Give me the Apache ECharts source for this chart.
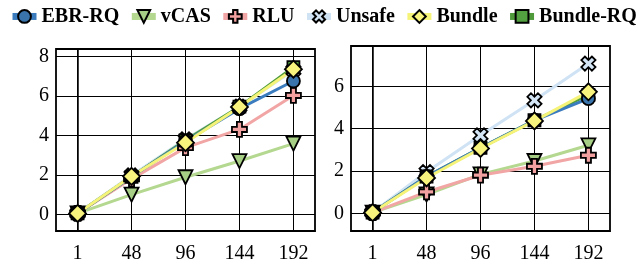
<!DOCTYPE html>
<html>
<head>
<meta charset="utf-8">
<script src="https://cdn.jsdelivr.net/npm/echarts@6/dist/echarts.min.js"></script>
<style>
  html, body { margin: 0; padding: 0; background: #fff; }
  #chart { width: 640px; height: 269px; }
</style>
</head>
<body>
<div id="chart"></div>
<script>
// x categories (threads)
const categories = ['1', '48', '96', '144', '192']
const seriesNames = ['EBR-RQ', 'vCAS', 'RLU', 'Unsafe', 'Bundle', 'Bundle-RQ']

// left panel
const ebrLeft = [0.05, 1.9, 3.7, 5.35, 6.75]
const vcasLeft = [0.05, 1.0, 1.88, 2.7, 3.58]
const rluLeft = [0.05, 1.8, 3.38, 4.3, 6.02]
const unsafeLeft = [0.05, 1.97, 3.8, 5.45, 7.3]
const bundleLeft = [0.05, 1.93, 3.63, 5.44, 7.35]
const bundleRqLeft = [0.05, 1.9, 3.75, 5.45, 7.45]

// right panel
const ebrRight = [0.05, 1.75, 3.1, 4.4, 5.42]
const vcasRight = [0.05, 0.9, 1.85, 2.48, 3.22]
const rluRight = [0.05, 1.02, 1.81, 2.23, 2.75]
const unsafeRight = [0.05, 1.96, 3.69, 5.34, 7.07]
const bundleRight = [0.05, 1.68, 3.07, 4.37, 5.74]
const bundleRqRight = [0.05, 1.75, 3.1, 4.4, 5.6]

const yTicksLeft = [0, 2, 4, 6, 8]
const yTicksRight = [0, 2, 4, 6]

const plusPath = 'path://M3.3,0 H6.7 V3.3 H10 V6.7 H6.7 V10 H3.3 V6.7 H0 V3.3 H3.3 Z'

// style per series name
const styles = {
  'EBR-RQ': { line: '#3b7cbf', fill: '#3a74ad', symbol: 'circle', size: 13, rotate: 0 },
  'vCAS': { line: '#b4d88f', fill: '#a6cf85', symbol: 'triangle', size: 14, rotate: 180 },
  'RLU': { line: '#f1a5a5', fill: '#f3a0a0', symbol: plusPath, size: 15, rotate: 0 },
  'Unsafe': { line: '#cfe3f5', fill: '#d4e5f6', symbol: plusPath, size: 15, rotate: 45 },
  'Bundle': { line: '#f6f478', fill: '#f8f37c', symbol: 'diamond', size: 17, rotate: 0 },
  'Bundle-RQ': { line: '#4f9b3b', fill: '#52a03f', symbol: 'rect', size: 12, rotate: 0 }
}

const fontFam = 'Liberation Serif'

function makeSeries (name, values, idx) {
  let s = styles[name]
  return {
    name: name,
    type: 'line',
    xAxisIndex: idx,
    yAxisIndex: idx,
    data: values.map((v, i) => [i, v]),
    symbol: s.symbol,
    symbolSize: s.size,
    symbolRotate: s.rotate,
    showAllSymbol: true,
    lineStyle: { color: s.line, width: 3 },
    itemStyle: { color: s.fill, borderColor: '#000', borderWidth: 1.8 },
    emphasis: { disabled: true },
    animation: false
  }
}

function xAxis (idx) {
  return {
    type: 'value',
    gridIndex: idx,
    min: -0.4,
    max: 4.4,
    axisLine: { show: true, onZero: false, lineStyle: { color: '#000', width: 1.5 } },
    axisTick: { show: false, customValues: [0, 1, 2, 3, 4] },
    axisLabel: {
      customValues: [0, 1, 2, 3, 4],
      formatter: v => categories[Math.round(v)],
      fontFamily: fontFam,
      fontSize: 20,
      color: '#000',
      margin: 13
    },
    splitLine: { show: true, lineStyle: { color: '#000', width: 1 } }
  }
}

function yAxis (idx, min, max, ticks) {
  return {
    type: 'value',
    gridIndex: idx,
    min: min,
    max: max,
    axisLine: { show: true, lineStyle: { color: '#000', width: 1.5 } },
    axisTick: { show: false, customValues: ticks },
    axisLabel: {
      customValues: ticks,
      fontFamily: fontFam,
      fontSize: 20,
      color: '#000',
      margin: 7
    },
    splitLine: { show: true, lineStyle: { color: '#000', width: 1 } }
  }
}

// draw order: later on top
const drawOrder = ['Unsafe', 'vCAS', 'RLU', 'Bundle-RQ', 'EBR-RQ', 'Bundle']
const leftData = { 'EBR-RQ': ebrLeft, 'vCAS': vcasLeft, 'RLU': rluLeft, 'Unsafe': unsafeLeft, 'Bundle': bundleLeft, 'Bundle-RQ': bundleRqLeft }
const rightData = { 'EBR-RQ': ebrRight, 'vCAS': vcasRight, 'RLU': rluRight, 'Unsafe': unsafeRight, 'Bundle': bundleRight, 'Bundle-RQ': bundleRqRight }

let series = []
drawOrder.forEach(n => series.push(makeSeries(n, leftData[n], 0)))
drawOrder.forEach(n => series.push(makeSeries(n, rightData[n], 1)))

let chart = echarts.init(document.getElementById('chart'), null, { renderer: 'canvas' })
chart.setOption({
  animation: false,
  legend: {
    data: seriesNames,
    left: 9,
    top: 6,
    width: 800,
    padding: 0,
    itemWidth: 24,
    itemHeight: 16,
    itemGap: 9,
    lineStyle: { width: 7 },
    textStyle: { fontFamily: fontFam, fontWeight: 'bold', fontSize: 20, color: '#000' }
  },
  grid: [
    { left: 56, right: 325, top: 49, bottom: 38, show: true, borderColor: '#000', borderWidth: 1.8, backgroundColor: 'transparent' },
    { left: 351, right: 30, top: 46, bottom: 38, show: true, borderColor: '#000', borderWidth: 1.8, backgroundColor: 'transparent' }
  ],
  xAxis: [xAxis(0), xAxis(1)],
  yAxis: [yAxis(0, -0.84, 8.37, yTicksLeft), yAxis(1, -0.82, 7.9, yTicksRight)],
  series: series
})
</script>
</body>
</html>
